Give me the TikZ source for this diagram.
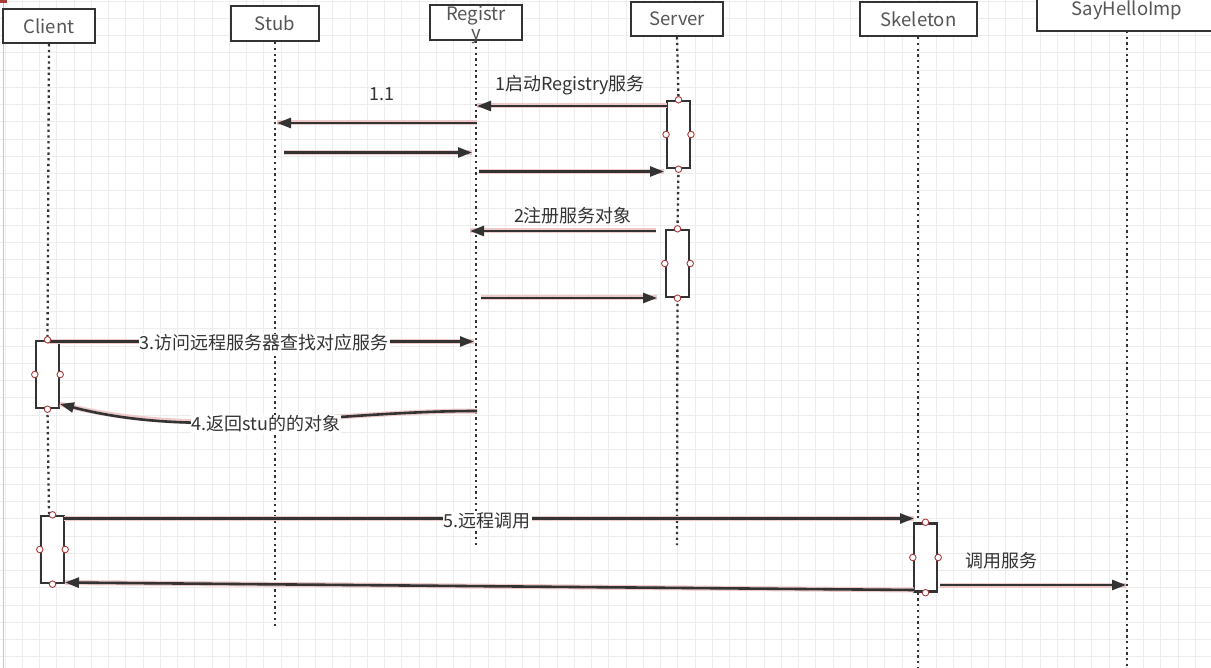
\documentclass[tikz,border=0pt]{standalone}
\usepackage{fontspec}
\setmainfont{Noto Sans CJK SC}
\usetikzlibrary{arrows.meta}
\definecolor{ink}{HTML}{333333}
\definecolor{txt}{HTML}{555555}
\definecolor{glow}{HTML}{EFCACA}
\definecolor{gridc}{HTML}{EDEDED}
\definecolor{handle}{HTML}{A83A3A}
\definecolor{redline}{HTML}{E2B8B8}
\begin{document}
\begin{tikzpicture}[x=1pt,y=-1pt,
 head/.style={draw=ink, line width=2.4pt, fill=white, inner sep=0pt, font=\fontsize{18.5}{18.5}\selectfont, text=txt},
 htext/.style={inner sep=0pt, font=\fontsize{18.5}{18.5}\selectfont, text=txt},
 life/.style={draw=ink, line width=2.3pt, dash pattern=on 2.3pt off 3.4pt},
 act/.style={draw=ink, line width=2.4pt, fill=white, inner sep=0pt},
 msg/.style={draw=ink, line width=2.6pt, -{Triangle[length=14pt,width=10pt]}, preaction={draw=glow, line width=5pt, arrows=-}},
 lbl/.style={font=\fontsize{18}{18}\selectfont, text=ink, inner sep=1pt},
 blbl/.style={lbl, fill=white},
 hnd/.style={circle, draw=handle, fill=white, line width=0.9pt, inner sep=0pt, minimum size=6.5pt}]

\useasboundingbox (0,0) rectangle (1211,668);
\fill[white] (0,0) rectangle (1211,668);
% grid
\foreach \i in {0,...,70} \draw[gridc, line width=0.9pt] ({5+17.25*\i},0) -- ++(0,668);
\foreach \j in {0,...,38} \draw[gridc, line width=0.9pt] (0,{1.2+17.25*\j}) -- ++(1211,0);
\draw[redline, line width=1pt] (3,0) -- (3,668);
\fill[handle] (0,0) rectangle (7,3);

% heads
\node[head, minimum width=92pt, minimum height=34pt] (client) at (49,26) {Client};
\node[head, minimum width=88pt, minimum height=35pt] (stub) at (275,23.5) {Stub};
\node[head, minimum width=92pt, minimum height=35pt] (registry) at (476,22.5) {};
\node[htext, align=center, font=\fontsize{18.5}{19}\selectfont] (regt) at (476,25) {Registr\\y};
\node[head, minimum width=92pt, minimum height=34pt] (server) at (677,19) {Server};
\node[head, minimum width=117pt, minimum height=34pt] (skeleton) at (918.5,19) {Skeleton};
\node[head, minimum width=183pt, minimum height=41pt] (sayhello) at (1128.5,10.5) {};
\node[htext] (sayt) at (1127,10) {SayHelloImp};

% activation boxes
\node[act, minimum width=22.5pt, minimum height=67pt] (sa1) at (678.5,134.5) {};
\node[act, minimum width=23pt, minimum height=67pt] (sa2) at (677.5,263.5) {};
\node[act, minimum width=23pt, minimum height=67pt] (ca1) at (47.5,374.5) {};
\node[act, minimum width=23pt, minimum height=67pt] (ca2) at (52.5,549.5) {};
\node[act, minimum width=23pt, minimum height=68pt] (ka) at (925.5,557.5) {};

% lifeline end points
\coordinate (clientend) at (49,514);
\coordinate (stubend) at (275,628);
\coordinate (regend) at (476,548);
\coordinate (servend) at (677,545);
\coordinate (skelend) at (918,668);
\coordinate (sayend) at (1127,668);
\coordinate (saystart) at (1127,31);

\draw[life] (client.south) -- (ca1.north);
\draw[life] (ca1.south) -- (clientend);
\draw[life] (stub.south) -- (stubend);
\draw[life] (registry.south) -- (regend);
\draw[life] (server.south) -- (sa1.north);
\draw[life] (sa1.south) -- (sa2.north);
\draw[life] (sa2.south) -- (servend);
\draw[life] ([xshift=-0.5pt]skeleton.south) -- ([xshift=-7.5pt]ka.north);
\draw[life] ([xshift=-7.5pt]ka.south) -- (skelend);
\draw[life] (saystart) -- (sayend);

% message points
\coordinate (m1a) at (667,106);   \coordinate (m1b) at (477,106);
\coordinate (m11a) at (477,123);  \coordinate (m11b) at (277,123);
\coordinate (m12a) at (284,152.5);\coordinate (m12b) at (472,152.5);
\coordinate (m13a) at (479,171.5);\coordinate (m13b) at (664,171.5);
\coordinate (m2a) at (656,231);   \coordinate (m2b) at (470,231);
\coordinate (m22a) at (481,298);  \coordinate (m22b) at (657,298);
\coordinate (m3a) at (48,341.5);  \coordinate (m3b) at (474,341.5);
\coordinate (m4a) at (477,411);   \coordinate (m4b) at (60,404);
\coordinate (m5a) at (64,518.5);  \coordinate (m5b) at (914,518.5);
\coordinate (m6a) at (914,590);   \coordinate (m6b) at (65,582.5);
\coordinate (m7a) at (940,585);   \coordinate (m7b) at (1126,585);

\draw[msg] (m1a) -- (m1b);
\draw[msg] (m11a) -- (m11b);
\draw[msg] (m12a) -- (m12b);
\draw[msg] (m13a) -- (m13b);
\draw[msg] (m2a) -- (m2b);
\draw[msg] (m22a) -- (m22b);
\draw[msg] (m3a) -- (m3b);
\draw[msg] (m4a) .. controls (330,411) and (200,440) .. (m4b);
\draw[msg] (m5a) -- (m5b);
\draw[msg] (m6a) -- (m6b);
\draw[msg] (m7a) -- (m7b);

% handles
\foreach \a in {sa1,sa2,ca1,ca2,ka}
  \foreach \p in {north,south,east,west}
    \node[hnd] (\a-\p) at (\a.\p) {};

% labels
\node[lbl] (l1) at (570,85) {1启动Registry服务};
\node[lbl] (l11) at (382,94) {1.1};
\node[lbl] (l2) at (573,216) {2注册服务对象};
\node[blbl] (l3) at (264,343) {3.访问远程服务器查找对应服务};
\node[blbl] (l4) at (266,424) {4.返回stu的的对象};
\node[blbl] (l5) at (487,521) {5.远程调用};
\node[lbl] (l7) at (1001,561) {调用服务};
\end{tikzpicture}
\end{document}
